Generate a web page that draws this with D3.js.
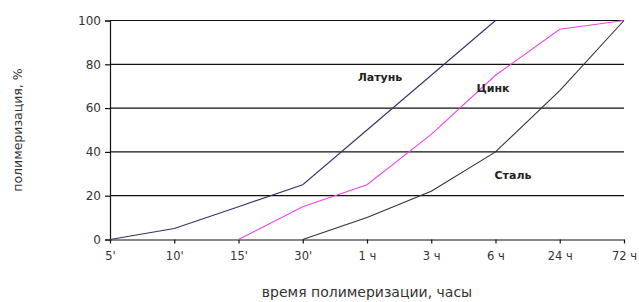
<!DOCTYPE html>
<html>
<head>
<meta charset="utf-8">
<script src="https://cdn.jsdelivr.net/npm/d3@7"></script>
<style>
  body { margin: 0; background: #fff; }
  svg { display: block; font-family: "DejaVu Sans", sans-serif; }
</style>
</head>
<body>
<svg width="639" height="302"></svg>
<script>
// categories on the x axis
const times = ["5'", "10'", "15'", "30'", "1 ч", "3 ч", "6 ч", "24 ч", "72 ч"];
const yTicks = [0, 20, 40, 60, 80, 100];

// series values (null = no point)
const brass = [0, 5, 15, 25, 50, 75, 100, null, null];
const zinc = [null, null, 0, 15, 25, 48, 75, 96, 100];
const steel = [null, null, null, 0, 10, 22, 40, 68, 100];

const seriesNames = ["Латунь", "Цинк", "Сталь"];
const seriesColors = ["#33336a", "#ee44ee", "#333333"];

const svg = d3.select("svg");

const x = d3.scalePoint().domain(times).range([110, 624]);
const y = d3.scaleLinear().domain([0, 100]).range([239.5, 20.5]);

// horizontal grid lines
svg.append("g")
    .selectAll("line").data(yTicks.filter(d => d > 0)).enter()
    .append("line")
    .attr("x1", 110).attr("x2", 624)
    .attr("y1", d => y(d)).attr("y2", d => y(d))
    .attr("stroke", "#111")
    .attr("stroke-width", 1.2);

// y axis
svg.append("g")
    .attr("transform", "translate(110,0)")
    .call(d3.axisLeft(y).tickValues(yTicks).tickSize(5).tickPadding(4))
    .call(g => g.selectAll("path, line").attr("stroke", "#111").attr("stroke-width", 1.2))
    .call(g => g.selectAll("text").attr("font-size", "12px").attr("fill", "#333").attr("font-family", "DejaVu Sans"));

// x axis
svg.append("g")
    .attr("transform", "translate(0,239.5)")
    .call(d3.axisBottom(x).tickSize(4).tickPadding(8).tickSizeOuter(0))
    .call(g => g.selectAll("path, line").attr("stroke", "#111").attr("stroke-width", 1.2))
    .call(g => g.selectAll("text").attr("font-size", "11.5px").attr("fill", "#333").attr("font-family", "DejaVu Sans"));

// series lines
const line = d3.line()
    .defined(d => d[1] !== null)
    .x(d => x(d[0]))
    .y(d => y(d[1]));

[brass, zinc, steel].forEach(function(vals, i) {
    svg.append("path")
        .datum(times.map((t, j) => [t, vals[j]]))
        .attr("fill", "none")
        .attr("stroke", seriesColors[i])
        .attr("stroke-width", 1.1)
        .attr("d", line);
});

// series labels
const labelPos = [[380, 81], [493, 92], [513, 179]];
seriesNames.forEach(function(name, i) {
    svg.append("text")
        .attr("x", labelPos[i][0])
        .attr("y", labelPos[i][1])
        .attr("text-anchor", "middle")
        .attr("font-size", "11px")
        .attr("font-weight", "bold")
        .attr("fill", "#222")
        .text(name);
});

// axis titles
svg.append("text")
    .attr("x", 367)
    .attr("y", 297)
    .attr("text-anchor", "middle")
    .attr("font-size", "14px")
    .attr("fill", "#333")
    .text("время полимеризации, часы");

svg.append("text")
    .attr("transform", "translate(22,130) rotate(-90)")
    .attr("text-anchor", "middle")
    .attr("font-size", "12.5px")
    .attr("fill", "#333")
    .text("полимеризация, %");
</script>
</body>
</html>
